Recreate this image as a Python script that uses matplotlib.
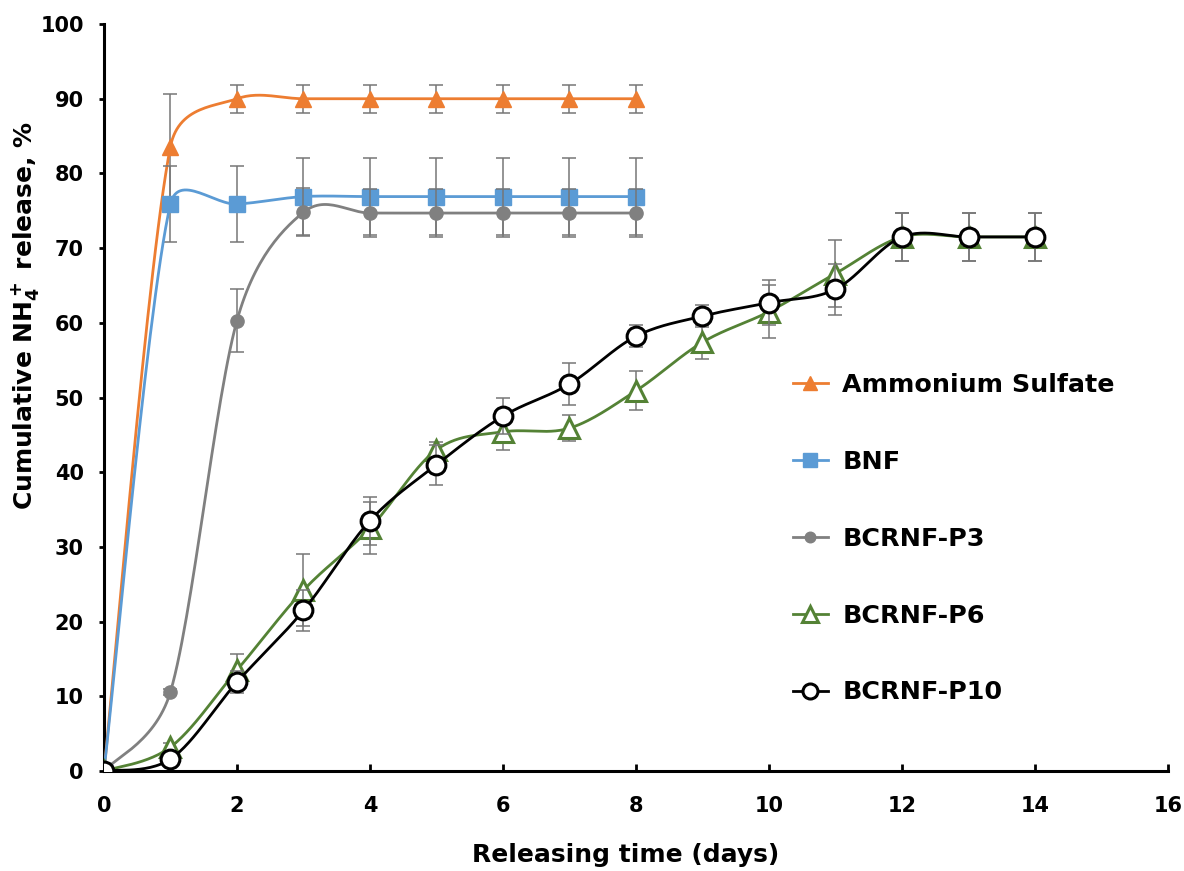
import matplotlib
matplotlib.use("Agg")
import matplotlib.pyplot as plt
import numpy as np

plt.rcParams["font.family"] = ["DejaVu Sans"]
plt.rcParams["font.weight"] = "bold"
plt.rcParams["mathtext.fontset"] = "custom"
plt.rcParams["mathtext.rm"] = "DejaVu Sans:bold"
plt.rcParams["mathtext.bf"] = "DejaVu Sans:bold"
plt.rcParams["mathtext.default"] = "bf"

days_short = [0, 1, 2, 3, 4, 5, 6, 7, 8]
days_long = [0, 1, 2, 3, 4, 5, 6, 7, 8, 9, 10, 11, 12, 13, 14]

ammonium = [0, 83.6, 90, 90, 90, 90, 90, 90, 90]
ammonium_err = [0, 7.0, 1.9, 1.9, 1.9, 1.9, 1.9, 1.9, 1.9]
bnf = [0, 75.9, 75.9, 76.9, 76.9, 76.9, 76.9, 76.9, 76.9]
bnf_err = [0, 5.1, 5.1, 5.1, 5.1, 5.1, 5.1, 5.1, 5.1]
p3 = [0, 10.6, 60.3, 74.8, 74.7, 74.7, 74.7, 74.7, 74.7]
p3_err = [0, 0.4, 4.2, 3.2, 3.2, 3.2, 3.2, 3.2, 3.2]
p6 = [0, 3.2, 13.5, 24.2, 32.5, 43.0, 45.4, 45.9, 50.9, 57.4, 61.5, 66.6, 71.5, 71.5, 71.5]
p6_err = [0, 0.5, 2.2, 4.8, 3.5, 1.0, 2.4, 1.7, 2.6, 2.3, 3.5, 4.5, 3.2, 3.2, 3.2]
p10 = [0, 1.6, 11.9, 21.5, 33.5, 41.0, 47.5, 51.8, 58.2, 60.9, 62.7, 64.5, 71.5, 71.5, 71.5]
p10_err = [0, 0.3, 1.5, 2.7, 3.2, 2.7, 2.4, 2.8, 1.5, 1.5, 3.0, 3.4, 3.2, 3.2, 3.2]

labels = ["Ammonium Sulfate", "BNF", "BCRNF-P3", "BCRNF-P6", "BCRNF-P10"]

FIG_W, FIG_H = 11.84, 8.71
AX_RECT = [0.0878, 0.1148, 0.8987, 0.8576]
X_MAX, Y_MAX = 16, 100


def smooth(x, y, n=30):
    # Excel-like smoothed line: bezier handles = (next - prev) / 6,
    # clamped to half the segment length (in screen units)
    kx = AX_RECT[2] * FIG_W * 100 / X_MAX
    ky = AX_RECT[3] * FIG_H * 100 / Y_MAX
    pts = np.column_stack([np.asarray(x) * kx, np.asarray(y) * ky]).astype(float)
    pad = np.vstack([pts[:1], pts, pts[-1:]])
    out = [pts[:1]]
    t = np.linspace(0, 1, n)[1:, None]
    for i in range(1, len(pad) - 2):
        p0, p1, p2, p3_ = pad[i - 1], pad[i], pad[i + 1], pad[i + 2]
        d12 = np.hypot(*(p2 - p1))
        h1 = (p2 - p0) / 6
        h2 = (p3_ - p1) / 6
        for h in (h1, h2):
            L = np.hypot(*h)
            if L > d12 / 2:
                h *= (d12 / 2) / L
        c1 = p1 + h1
        c2 = p2 - h2
        seg = ((1 - t) ** 3) * p1 + 3 * ((1 - t) ** 2) * t * c1 + 3 * (1 - t) * t ** 2 * c2 + t ** 3 * p2
        out.append(seg)
    out = np.vstack(out)
    return out[:, 0] / kx, out[:, 1] / ky


fig = plt.figure(figsize=(FIG_W, FIG_H), dpi=100)
ax = fig.add_axes(AX_RECT)

series = [
    (days_short, ammonium, ammonium_err, "#ED7D31", dict(marker="^", markersize=12, markerfacecolor="#ED7D31", markeredgecolor="#ED7D31")),
    (days_short, bnf, bnf_err, "#5B9BD5", dict(marker="s", markersize=12, markerfacecolor="#5B9BD5", markeredgecolor="#5B9BD5")),
    (days_short, p3, p3_err, "#808080", dict(marker="o", markersize=9.5, markerfacecolor="#808080", markeredgecolor="#808080")),
    (days_long, p6, p6_err, "#548235", dict(marker="^", markersize=14, markerfacecolor="white", markeredgecolor="#548235", markeredgewidth=2.2)),
    (days_long, p10, p10_err, "#000000", dict(marker="o", markersize=13.5, markerfacecolor="white", markeredgecolor="#000000", markeredgewidth=2.2)),
]

handles = []
for k, (x, y, e, c, mk) in enumerate(series):
    ax.errorbar(x, y, yerr=e, fmt="none", ecolor="#767676", elinewidth=1.1, capsize=4.7, capthick=1.1, zorder=2 + k * 2)
    sx, sy = smooth(x, y)
    ax.plot(sx, sy, color=c, linewidth=2, zorder=3 + k * 2)
    ax.plot(x, y, linestyle="none", zorder=3 + k * 2, **mk)
    h, = ax.plot([], [], color=c, linewidth=2, label=labels[k], **{**mk, "markersize": mk["markersize"] * 0.8})
    handles.append(h)

ax.set_xlim(0, X_MAX)
ax.set_ylim(0, Y_MAX)
ax.set_xticks(range(0, 17, 2))
ax.set_yticks(range(0, 101, 10))
ax.spines["top"].set_visible(False)
ax.spines["right"].set_visible(False)
for s in ["left", "bottom"]:
    ax.spines[s].set_linewidth(2.2)
ax.tick_params(axis="x", direction="in", length=5, width=2, labelsize=15, pad=18)
ax.tick_params(axis="y", direction="out", length=3.5, width=2, labelsize=15, pad=11)
for lab in ax.get_xticklabels() + ax.get_yticklabels():
    lab.set_fontweight("bold")

ax.set_xlabel("Releasing time (days)", fontsize=18, fontweight="bold")
ax.xaxis.set_label_coords(0.49, -0.097)
ax.set_ylabel(r"Cumulative NH$_4^+$ release, %", fontsize=18, fontweight="bold")
ax.yaxis.set_label_coords(-0.059, 0.61)

ax.legend(handles=handles, loc="center left", bbox_to_anchor=(0.6476, 0.311), frameon=False,
          borderpad=0, borderaxespad=0, labelspacing=2.08, handlelength=1.36, handletextpad=0.58,
          prop={"weight": "bold", "size": 18.3})

fig.savefig("out.png", dpi=100)
